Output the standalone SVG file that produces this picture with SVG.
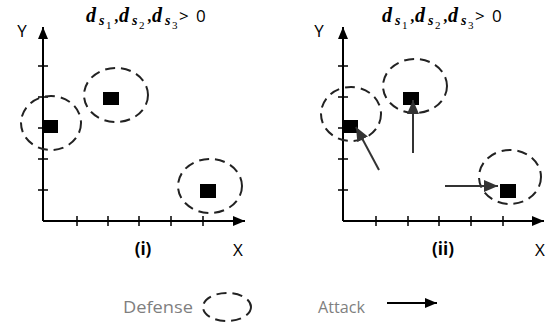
<svg xmlns="http://www.w3.org/2000/svg" width="550" height="322" viewBox="0 0 550 322">
<style>
.axis{stroke:#000;stroke-width:2;fill:none}
.tick{stroke:#000;stroke-width:1.5}
.def{fill:none;stroke:#222;stroke-width:2;stroke-dasharray:10,6}
.node{fill:#000}
.atk{stroke:#333;stroke-width:2;fill:none}
.lbl{font-family:"Open Sans","Liberation Sans",sans-serif;font-size:17px;fill:#000}
.bold{font-weight:bold}
.m{font-family:"Liberation Serif","DejaVu Serif",serif;font-weight:bold;font-style:italic;fill:#000}
.sub{font-family:"Liberation Serif","DejaVu Serif",serif;font-size:11px;fill:#000}
.leg{font-family:"Open Sans","Liberation Sans",sans-serif;font-size:16px;fill:#7f7f7f}
</style>
<defs>
<marker id="ah" markerWidth="12" markerHeight="10" refX="12" refY="5" orient="auto" markerUnits="userSpaceOnUse"><path d="M0,0 L12,5 L0,10 z" fill="#000"/></marker>
<marker id="ah2" markerWidth="14" markerHeight="12" refX="14" refY="6" orient="auto" markerUnits="userSpaceOnUse"><path d="M0,0 L14,6 L0,12 z" fill="#333"/></marker>
</defs>

<!-- Panel (i) -->
<g id="axes-i">
<line class="axis" x1="43" y1="221" x2="43" y2="27" marker-end="url(#ah)"/>
<line class="axis" x1="43" y1="221" x2="245" y2="221" marker-end="url(#ah)"/>
<path class="tick" d="M38,66H48M38,97H48M38,128H48M38,159H48M38,190H48M77,216V226M108,216V226M139,216V226M171,216V226M203,216V226"/>
<text class="lbl" x="22" y="37" text-anchor="middle">Y</text>
<text class="lbl" x="238" y="256" text-anchor="middle">X</text>
<text class="lbl bold" x="143" y="255" text-anchor="middle">(i)</text>
</g>
<g id="title-i">
<text class="m" font-size="20" x="86" y="22">d</text>
<text class="m" font-size="14" x="99" y="25">s</text>
<text class="sub" x="106" y="29">1</text>
<text class="m" font-size="16" x="115" y="22">,</text>
<text class="m" font-size="20" x="119" y="22">d</text>
<text class="m" font-size="14" x="132" y="25">s</text>
<text class="sub" x="139" y="29">2</text>
<text class="m" font-size="16" x="148" y="22">,</text>
<text class="m" font-size="20" x="152" y="22">d</text>
<text class="m" font-size="14" x="165" y="25">s</text>
<text class="sub" x="172" y="29">3</text>
<text class="lbl" x="179" y="22" font-size="16">&gt;</text>
<text class="lbl" x="196" y="22" font-size="16">0</text>
</g>
<g id="node-i-1"><ellipse class="def" cx="51" cy="123" rx="30" ry="27"/><rect class="node" x="42" y="120" width="16" height="13"/></g>
<g id="node-i-2"><ellipse class="def" cx="116" cy="95" rx="32" ry="27"/><rect class="node" x="103" y="92" width="16" height="13"/></g>
<g id="node-i-3"><ellipse class="def" cx="210" cy="186" rx="32" ry="27"/><rect class="node" x="200" y="184" width="16" height="14"/></g>

<!-- Panel (ii) -->
<g id="axes-ii">
<line class="axis" x1="343" y1="221" x2="343" y2="27" marker-end="url(#ah)"/>
<line class="axis" x1="343" y1="221" x2="544" y2="221" marker-end="url(#ah)"/>
<path class="tick" d="M338,66H348M338,97H348M338,128H348M338,159H348M338,190H348M376,216V226M408,216V226M439,216V226M471,216V226M503,216V226"/>
<text class="lbl" x="319" y="37" text-anchor="middle">Y</text>
<text class="lbl" x="540" y="256" text-anchor="middle">X</text>
<text class="lbl bold" x="443" y="255" text-anchor="middle">(ii)</text>
</g>
<g id="title-ii">
<text class="m" font-size="20" x="382" y="22">d</text>
<text class="m" font-size="14" x="395" y="25">s</text>
<text class="sub" x="402" y="29">1</text>
<text class="m" font-size="16" x="411" y="22">,</text>
<text class="m" font-size="20" x="415" y="22">d</text>
<text class="m" font-size="14" x="428" y="25">s</text>
<text class="sub" x="435" y="29">2</text>
<text class="m" font-size="16" x="444" y="22">,</text>
<text class="m" font-size="20" x="448" y="22">d</text>
<text class="m" font-size="14" x="461" y="25">s</text>
<text class="sub" x="468" y="29">3</text>
<text class="lbl" x="475" y="22" font-size="16">&gt;</text>
<text class="lbl" x="492" y="22" font-size="16">0</text>
</g>
<g id="node-ii-1"><ellipse class="def" cx="351" cy="114" rx="30" ry="27"/><rect class="node" x="342" y="120" width="16" height="13"/></g>
<g id="node-ii-2"><ellipse class="def" cx="415" cy="86" rx="32" ry="27"/><rect class="node" x="403" y="92" width="16" height="13"/></g>
<g id="node-ii-3"><ellipse class="def" cx="510" cy="177" rx="31" ry="27"/><rect class="node" x="500" y="184" width="16" height="14"/></g>

<g id="connectors">
<line class="atk" x1="379" y1="170" x2="356" y2="127" marker-end="url(#ah2)"/>
<line class="atk" x1="413" y1="153" x2="413" y2="100" marker-end="url(#ah2)"/>
<line class="atk" x1="445" y1="186" x2="498" y2="186" marker-end="url(#ah2)"/>
</g>

<!-- Legend -->
<g id="legend">
<text class="leg" x="123" y="313" textLength="70" lengthAdjust="spacingAndGlyphs">Defense</text>
<ellipse class="def" cx="227" cy="307" rx="24" ry="14"/>
<text class="leg" x="318" y="313" textLength="47" lengthAdjust="spacingAndGlyphs">Attack</text>
<line class="axis" x1="387" y1="303" x2="437" y2="303" marker-end="url(#ah)"/>
</g>
</svg>
